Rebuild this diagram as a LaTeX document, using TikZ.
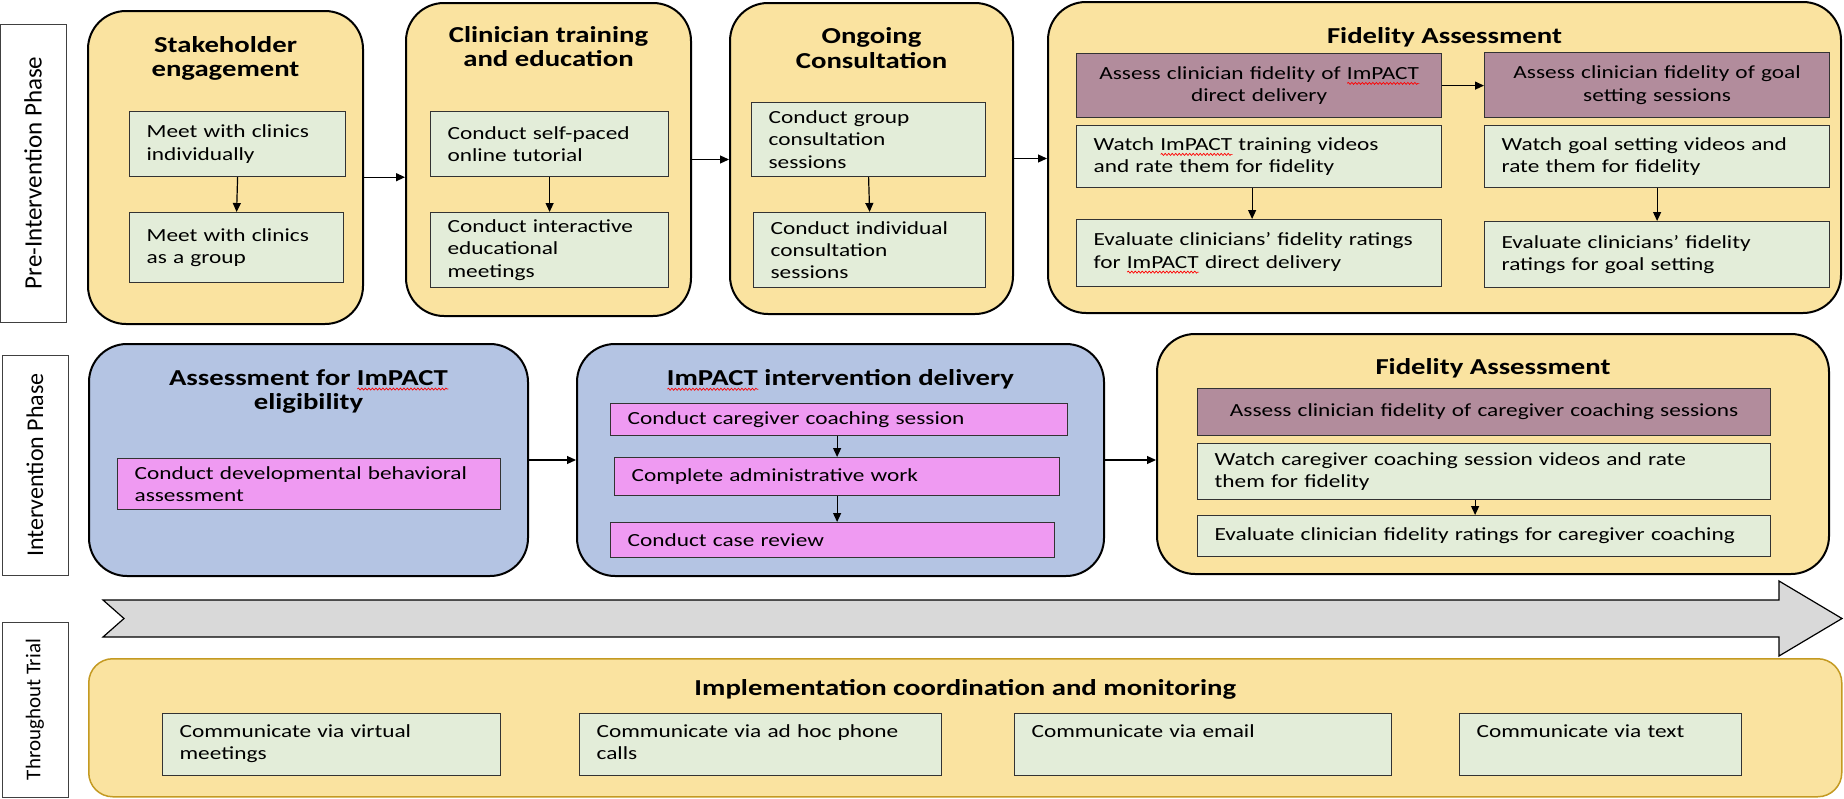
\documentclass[tikz,border=0pt]{standalone}
\usepackage{fontspec}
\setmainfont{Carlito}[FakeStretch=1.26]
\newfontfamily\phasefont{Carlito}
\usetikzlibrary{arrows.meta,positioning,decorations.pathmorphing}

\definecolor{stageyellow}{HTML}{FAE3A0}
\definecolor{stageblue}{HTML}{B4C4E3}
\definecolor{taskgreen}{HTML}{E3EDD9}
\definecolor{assessmauve}{HTML}{B28C9C}
\definecolor{actpink}{HTML}{EF9AF2}
\definecolor{bargray}{HTML}{D9D9D9}
\definecolor{rimgold}{HTML}{C49A22}

\newcommand\taskfont{\fontsize{18.5}{22.3}\selectfont}
\newcommand\stagefont{\fontsize{22.8}{24.8}\selectfont\bfseries}
\newlength\spellwd
\newcommand\spellwave[1]{\settowidth\spellwd{#1}\rlap{\tikz[baseline=0pt]\draw[red,line width=0.7pt,decorate,
    decoration={snake,amplitude=1pt,segment length=3.5pt}] (0pt,-4pt) -- (\spellwd,-4pt);}#1}

\begin{document}
\begin{tikzpicture}[x=1pt,y=-1pt,>={Triangle[length=9pt,width=8pt]},
    stage/.style={draw,line width=2pt,rounded corners=38pt,anchor=north west,inner sep=0pt},
    stagetitle/.style={font=\stagefont,align=center,inner sep=0pt},
    task/.style={draw=black!80,line width=1.2pt,fill=taskgreen,anchor=north west,align=left,
      inner xsep=17pt,inner ysep=0pt,font=\taskfont},
    assess/.style={task,fill=assessmauve,align=center},
    act/.style={task,fill=actpink},
    comm/.style={task,text height=24pt,text depth=38pt},
    phase/.style={draw=black!75,line width=1pt,rotate=90,inner sep=0pt,minimum height=66pt},
    flow/.style={->,line width=1.2pt}]
  \useasboundingbox (0,0) rectangle (1844,798);

  % pre-intervention phase
  \node[phase,minimum width=298pt,font=\phasefont\fontsize{25}{29}\selectfont] (pre) at (33,173) {Pre-Intervention Phase};

  \node[stage,fill=stageyellow,minimum width=275pt,minimum height=313pt] (stake) at (87,10) {};
  \node[stagetitle,below=26pt of stake.north] (stake-t) {Stakeholder\\engagement};
  \node[task,text width=182pt,minimum height=65pt] (meet1) at (129,111) {Meet with clinics\\individually};
  \node[task,text width=180pt,minimum height=70pt] (meet2) at (129,212) {Meet with clinics\\as a group};

  \node[stage,fill=stageyellow,minimum width=285pt,minimum height=313pt] (clin) at (405,2) {};
  \node[stagetitle,below=24pt of clin.north] (clin-t) {Clinician training\\and education};
  \node[task,text width=204pt,minimum height=65pt] (tut) at (430,111) {Conduct self-paced\\online tutorial};
  \node[task,text width=204pt,minimum height=75pt] (edu) at (430,212) {Conduct interactive\\educational\\meetings};

  \node[stage,fill=stageyellow,minimum width=283pt,minimum height=311pt] (ongo) at (729,2) {};
  \node[stagetitle,below=25pt of ongo.north] (ongo-t) {Ongoing\\Consultation};
  \node[task,text width=200pt,minimum height=74pt] (grp) at (751,102) {Conduct group\\consultation\\sessions};
  \node[task,text width=198pt,minimum height=75pt] (ind) at (753,212) {Conduct individual\\consultation\\sessions};

  \node[stage,fill=stageyellow,minimum width=793pt,minimum height=311pt] (fid1) at (1047,1) {};
  \node[stagetitle,below=26pt of fid1.north] (fid1-t) {Fidelity Assessment};
  \node[assess,text width=331pt,minimum height=64pt] (pa) at (1076,53) {Assess clinician fidelity of \spellwave{ImPACT}\\direct delivery};
  \node[assess,text width=311pt,minimum height=65pt] (pb) at (1484,52) {Assess clinician fidelity of goal\\setting sessions};
  \node[task,text width=331pt,minimum height=62pt] (wa) at (1076,125) {Watch \spellwave{ImPACT} training videos\\and rate them for fidelity};
  \node[task,text width=311pt,minimum height=62pt] (wb) at (1484,125) {Watch goal setting videos and\\rate them for fidelity};
  \node[task,text width=331pt,minimum height=67pt] (ea) at (1076,219) {Evaluate clinicians’ fidelity ratings\\for \spellwave{ImPACT} direct delivery};
  \node[task,text width=311pt,minimum height=66pt] (eb) at (1484,221) {Evaluate clinicians’ fidelity\\ratings for goal setting};

  \draw[flow] (meet1.south) -- (meet2.north);
  \draw[flow] (tut.south) -- (edu.north);
  \draw[flow] (grp.south) -- (ind.north);
  \draw[flow] ([xshift=-7pt]wa.south) -- ([xshift=-7pt]ea.north);
  \draw[flow] (wb.south) -- (eb.north);
  \draw[flow] (pa.east) -- (pa.east -| pb.west);
  \draw[flow] (stake.east |- meet1.south) -- (clin.west |- meet1.south);
  \draw[flow] (clin.east) -- (clin.east -| ongo.west);
  \draw[flow] (ongo.east) -- (ongo.east -| fid1.west);

  % intervention phase
  \node[phase,minimum width=220pt,font=\phasefont\fontsize{24}{28}\selectfont] (int) at (35,465) {Intervention Phase};

  \node[stage,fill=stageblue,minimum width=439pt,minimum height=232pt] (elig) at (88,343) {};
  \node[stagetitle,below=26pt of elig.north] (elig-t) {Assessment for \spellwave{ImPACT}\\eligibility};
  \node[act,text width=349pt,minimum height=51pt] (dba) at (117,458) {Conduct developmental behavioral\\assessment};

  \node[stage,fill=stageblue,minimum width=527pt,minimum height=232pt] (deliv) at (576,343) {};
  \node[stagetitle,below=26pt of deliv.north] (deliv-t) {\spellwave{ImPACT} intervention delivery};
  \node[act,text width=423pt,minimum height=32pt] (coach) at (610,403) {Conduct caregiver coaching session};
  \node[act,text width=411pt,minimum height=38pt] (admin) at (614,457) {Complete administrative work};
  \node[act,text width=410pt,minimum height=35pt] (review) at (610,522) {Conduct case review};

  \node[stage,fill=stageyellow,minimum width=672pt,minimum height=240pt] (fid2) at (1156,333) {};
  \node[stagetitle,below=25pt of fid2.north] (fid2-t) {Fidelity Assessment};
  \node[assess,text width=539pt,minimum height=47pt] (cs) at (1197,388) {Assess clinician fidelity of caregiver coaching sessions};
  \node[task,text width=539pt,minimum height=56pt] (cw) at (1197,443) {Watch caregiver coaching session videos and rate\\them for fidelity};
  \node[task,text width=539pt,minimum height=41pt] (ce) at (1197,515) {Evaluate clinician fidelity ratings for caregiver coaching};

  \draw[flow] (coach.south -| admin.north) -- (admin.north);
  \draw[flow] (admin.south) -- (admin.south |- review.north);
  \draw[flow] ([xshift=-9pt]cw.south) -- ([xshift=-9pt]ce.north);
  \draw[flow] (elig.east) -- (deliv.west);
  \draw[flow] (deliv.east) -- (deliv.east -| fid2.west);

  % throughout trial
  \draw[fill=bargray,line width=1.2pt] (103,600) -- (1779,600) -- (1779,581) -- (1842,618.5)
    -- (1779,656) -- (1779,637) -- (103,637) -- (124,618.5) -- cycle;

  \node[phase,minimum width=175pt,font=\phasefont\fontsize{21}{25}\selectfont] (trial) at (35,709.5) {Throughout Trial};

  \node[stage,draw=rimgold,line width=1.5pt,rounded corners=24pt,fill=stageyellow,minimum width=1753pt,minimum height=138pt] (impl) at (88,658) {};
  \node[stagetitle,below=21pt of impl.north] (impl-t) {Implementation coordination and monitoring};
  \node[comm,text width=304pt] (virt) at (162,713) {Communicate via virtual\\meetings};
  \node[comm,text width=328pt] (phone) at (579,713) {Communicate via ad hoc phone\\calls};
  \node[comm,text width=343pt] (mail) at (1014,713) {Communicate via email};
  \node[comm,text width=248pt] (text) at (1459,713) {Communicate via text};
\end{tikzpicture}
\end{document}
